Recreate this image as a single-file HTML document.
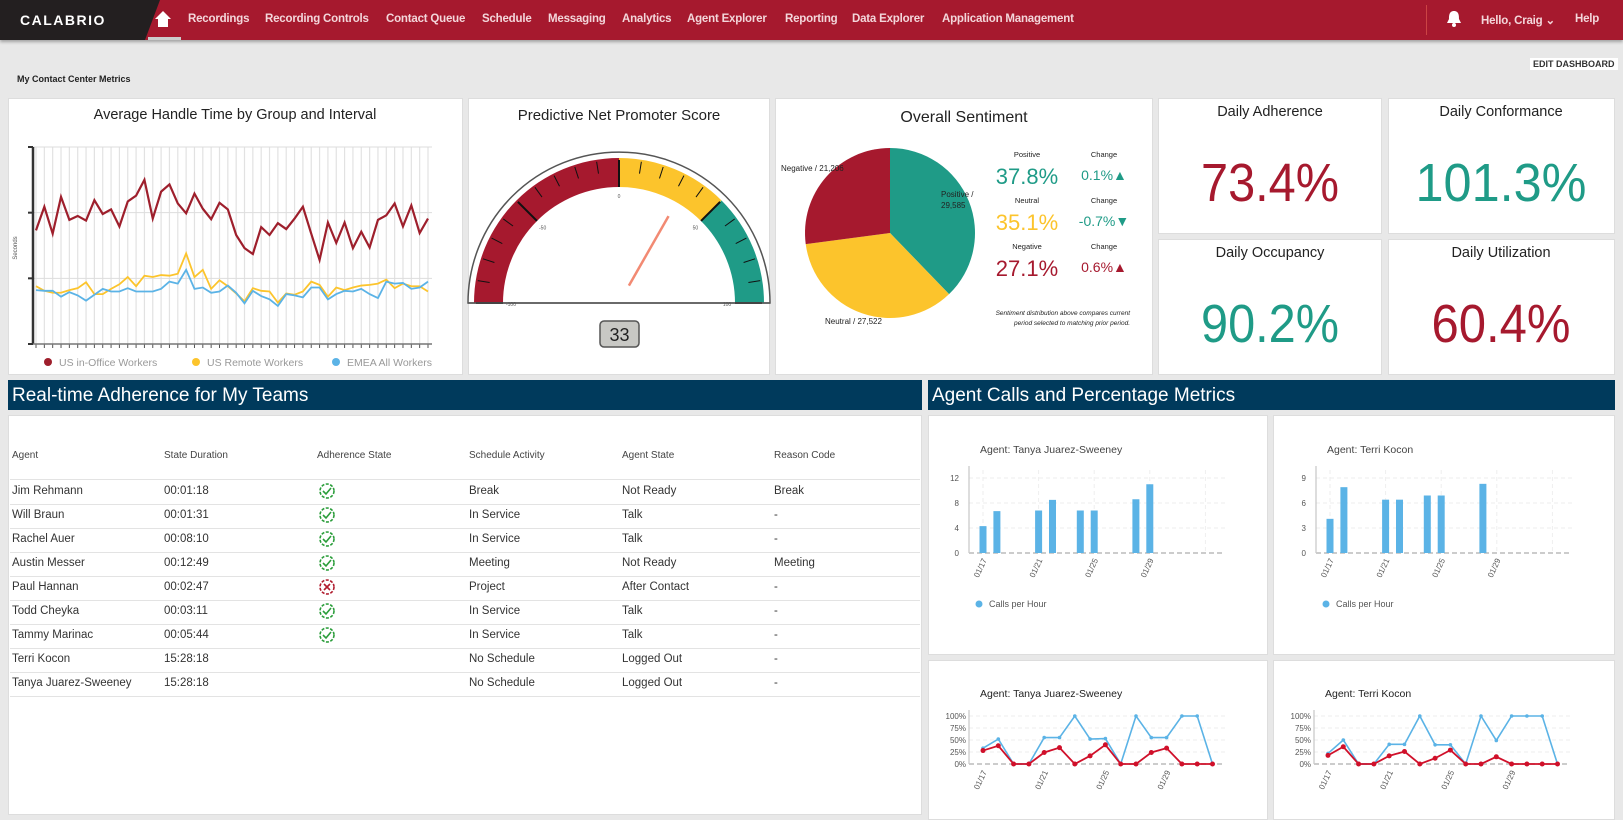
<!DOCTYPE html>
<html><head><meta charset="utf-8">
<style>
*{margin:0;padding:0;box-sizing:border-box}
body{width:1623px;height:810px;overflow:hidden;background:#e8e8e8;font-family:"Liberation Sans",sans-serif;position:relative}
.abs{position:absolute}
.nav{left:0;top:0;width:1623px;height:40px;background:#a6192e;box-shadow:0 2px 3px rgba(0,0,0,.3)}
.navi{position:absolute;top:13px;color:#f3d6da;font-size:11.5px;font-weight:bold;white-space:nowrap;letter-spacing:-0.2px}
.panel{position:absolute;background:#fff;border:1px solid #ddd}
.hdr{position:absolute;background:#003a5c;color:#fff;font-size:19px;padding:5px 4px;height:30px;white-space:nowrap}
.th{position:absolute;top:450px;font-size:10px;color:#444}
.td{position:absolute;font-size:11.5px;color:#333;white-space:nowrap}
.rl{position:absolute;left:10px;width:910px;height:1px;background:#e3e3e3}
</style></head><body>
<div class="abs nav">
 <svg class="abs" style="left:0;top:0" width="160" height="40"><polygon points="0,0 160,0 145,40 0,40" fill="#231f20"/><text x="20" y="25" fill="#fff" font-size="14" font-weight="bold" letter-spacing="1.5" font-family="Liberation Sans">CALABRIO</text></svg>
 <svg class="abs" style="left:154px;top:10px" width="18" height="18"><polygon points="9,1 1,9 4,9 4,17 14,17 14,9 17,9" fill="#fff"/></svg>
 <div class="abs" style="left:148px;top:37px;width:33px;height:3px;background:#ccc"></div>
 <span class="navi" style="left:188px">Recordings</span>
 <span class="navi" style="left:265px">Recording Controls</span>
 <span class="navi" style="left:386px">Contact Queue</span>
 <span class="navi" style="left:482px">Schedule</span>
 <span class="navi" style="left:548px">Messaging</span>
 <span class="navi" style="left:622px">Analytics</span>
 <span class="navi" style="left:687px">Agent Explorer</span>
 <span class="navi" style="left:785px">Reporting</span>
 <span class="navi" style="left:852px">Data Explorer</span>
 <span class="navi" style="left:942px">Application Management</span>
 <div class="abs" style="left:1426px;top:5px;width:1px;height:30px;background:#c44"></div>
 <svg class="abs" style="left:1446px;top:10px" width="16" height="18"><path d="M8 1 C3 1 3 6 3 9 L1 13 L15 13 L13 9 C13 6 13 1 8 1Z" fill="#fff"/><circle cx="8" cy="15" r="2" fill="#fff"/></svg>
 <span class="navi" style="left:1481px">Hello, Craig ⌄</span>
 <span class="navi" style="left:1575px">Help</span>
</div>
<div class="abs" style="left:17px;top:74px;font-size:9px;font-weight:bold;color:#222">My Contact Center Metrics</div>
<div class="abs" style="left:1530px;top:58px;font-size:9px;font-weight:bold;color:#333;background:#fff;padding:1px 3px">EDIT DASHBOARD</div>

<div class="panel" style="left:8px;top:98px;width:455px;height:277px"></div>

<div class="panel" style="left:468px;top:98px;width:302px;height:277px"></div>
<div class="panel" style="left:775px;top:98px;width:378px;height:277px"></div>
<div class="panel" style="left:1158px;top:98px;width:224px;height:136px"></div>
<div class="panel" style="left:1388px;top:98px;width:227px;height:136px"></div>
<div class="panel" style="left:1158px;top:239px;width:224px;height:136px"></div>
<div class="panel" style="left:1388px;top:239px;width:227px;height:136px"></div>

<div class="hdr" style="left:8px;top:380px;width:914px">Real-time Adherence for My Teams</div>
<div class="hdr" style="left:928px;top:380px;width:687px">Agent Calls and Percentage Metrics</div>

<div class="panel" style="left:8px;top:415px;width:914px;height:400px"></div>
<div class="panel" style="left:928px;top:415px;width:340px;height:240px"></div>
<div class="panel" style="left:1273px;top:415px;width:342px;height:240px"></div>
<div class="panel" style="left:928px;top:660px;width:340px;height:160px"></div>
<div class="panel" style="left:1273px;top:660px;width:342px;height:160px"></div>

<div id="table"></div>
<svg class="abs" style="left:0;top:0" width="1623" height="810" id="over" pointer-events="none"></svg>

<script>
const ahtRed=[173,209,168,224,189,195,188,219,198,205,179,217,226,250,191,232,243,214,199,229,206,190,215,205,166,146,137,178,166,184,175,191,209,168,128,185,154,185,146,171,147,189,196,214,179,211,169,191];
const ahtYellow=[88,81,78,78,82,85,94,76,76,84,91,102,88,104,102,105,104,107,138,102,113,84,97,88,77,65,85,81,80,63,77,75,80,95,90,72,86,82,86,89,90,92,98,85,92,88,88,80];
const ahtBlue=[82,81,81,72,79,74,66,75,84,80,80,85,80,80,80,84,95,92,113,84,86,78,80,89,78,62,81,73,68,58,76,74,71,86,86,68,76,81,80,84,76,70,95,92,93,84,86,95];
const ahtTicks=[0,100,200,300];
const sentLabels=["Positive","Neutral","Negative"];
const sentCounts=[29585,27522,21206];
const sentPct=["37.8%","35.1%","27.1%"];
const sentChange=["0.1%","-0.7%","0.6%"];
const npsValue=33;
const kpiNames=["Daily Adherence","Daily Conformance","Daily Occupancy","Daily Utilization"];
const kpiValues=["73.4%","101.3%","90.2%","60.4%"];
const tanyaBarDays=[0,1,4,5,7,8,11,12];
const tanyaBarVals=[4.3,6.7,6.8,8.5,6.8,6.8,8.6,11];
const terriBarDays=[0,1,4,5,7,8,11];
const terriBarVals=[4.1,7.9,6.4,6.4,6.9,6.9,8.3];
const tanyaTicks=[0,4,8,12];
const terriTicks=[0,3,6,9];
const dateLabels=["01/17","01/21","01/25","01/29"];
const tanyaBlue=[33,52,0,0,55,55,100,52,53,0,100,55,55,100,100,0];
const tanyaRed=[28,38,0,0,24,34,0,17,40,0,0,24,33,0,0,0];
const terriBlue=[22,50,0,0,41,41,100,40,40,0,100,49,100,100,100,0];
const terriRed=[18,36,0,0,17,26,0,12,29,0,0,15,0,0,0,0];
const pctTicks=["0%","25%","50%","75%","100%"];
const agents=["Jim Rehmann","Will Braun","Rachel Auer","Austin Messer","Paul Hannan","Todd Cheyka","Tammy Marinac","Terri Kocon","Tanya Juarez-Sweeney"];
const durations=["00:01:18","00:01:31","00:08:10","00:12:49","00:02:47","00:03:11","00:05:44","15:28:18","15:28:18"];
const adh=["ok","ok","ok","ok","bad","ok","ok","",""];
const activities=["Break","In Service","In Service","Meeting","Project","In Service","In Service","No Schedule","No Schedule"];
const states=["Not Ready","Talk","Talk","Not Ready","After Contact","Talk","Talk","Logged Out","Logged Out"];
const reasons=["Break","-","-","Meeting","-","-","-","-","-"];

const NS="http://www.w3.org/2000/svg";
const svg=document.getElementById('over');
function el(tag,attrs,parent,txt){const e=document.createElementNS(NS,tag);for(const k in attrs)e.setAttribute(k,attrs[k]);if(txt!==undefined)e.textContent=txt;(parent||svg).appendChild(e);return e;}
const RED="#a6192e",TEAL="#1f9b87",YEL="#fcc42c",BLUE="#5bb3e6";

(function(){
 const x0=36,x1=428,yb=344,yt=147;
 const xs=i=>x0+i*(x1-x0)/(ahtRed.length-1);
 const ys=v=>yb-(v-ahtTicks[0])/(ahtTicks[ahtTicks.length-1]-ahtTicks[0])*(yb-yt);
 let t=el('text',{x:235,y:119,'text-anchor':'middle','font-size':14.5,fill:'#222'},svg,'Average Handle Time by Group and Interval');
 
 for(let i=0;i<ahtRed.length;i++){el('line',{x1:xs(i),x2:xs(i),y1:yt,y2:yb,stroke:'#e2e2e2','stroke-width':1.2});
  el('line',{x1:xs(i),x2:xs(i),y1:yb,y2:yb+4,stroke:'#555'});}
 ahtTicks.forEach(v=>{if(v>0)el('line',{x1:32,x2:432,y1:ys(v),y2:ys(v),stroke:'#ddd'});el('line',{x1:28,x2:33,y1:ys(v),y2:ys(v),stroke:'#333','stroke-width':2});});
 el('line',{x1:33,x2:33,y1:yt,y2:yb,stroke:'#333','stroke-width':2.5});
 el('line',{x1:33,x2:432,y1:yb,y2:yb,stroke:'#777','stroke-width':1.5});
 const yl=el('text',{x:0,y:0,transform:'translate(17,248) rotate(-90)','text-anchor':'middle','font-size':6,fill:'#555'},svg,'Seconds');
 
 [[ahtYellow,YEL,'series-us-remote'],[ahtBlue,BLUE,'series-emea'],[ahtRed,'#9e1f2c','series-us-in-office']].forEach(([d,c,n])=>{
  const p=el('polyline',{points:d.map((v,i)=>xs(i)+','+ys(v)).join(' '),fill:'none',stroke:c,'stroke-width':c==='#9e1f2c'?2.2:1.8});
  });
 [[48,'#9e1f2c','US in-Office Workers'],[196,YEL,'US Remote Workers'],[336,BLUE,'EMEA All Workers']].forEach(([x,c,s])=>{
  const g=el('g',{});
  el('circle',{cx:x,cy:362,r:4,fill:c},g);el('text',{x:x+11,y:366,'font-size':10.5,fill:'#999'},g,s);});
})();

(function(){
 const cx=619,cy=303,ro=145,ri=116;
 const t=el('text',{x:619,y:120,'text-anchor':'middle','font-size':15,fill:'#222'},svg,'Predictive Net Promoter Score');
 
 const ang=v=>Math.PI-(v+100)/200*Math.PI;
 const P=(r,a)=>[cx+r*Math.cos(a),cy-r*Math.sin(a)];
 el('path',{d:`M${cx-151},${cy} A151,151 0 0 1 ${cx+151},${cy} Z`,fill:'#fff',stroke:'#555','stroke-width':1.5});
 function band(v0,v1,c,n){const a0=ang(v0),a1=ang(v1);const p1=P(ro,a0),p2=P(ro,a1),p3=P(ri,a1),p4=P(ri,a0);
  const b=el('path',{d:`M${p1} A${ro},${ro} 0 0 1 ${p2} L${p3} A${ri},${ri} 0 0 0 ${p4} Z`,fill:c});}
 band(-100,0,RED,'gauge-band-negative');band(0,50,YEL,'gauge-band-neutral');band(50,100,TEAL,'gauge-band-positive');
 for(let v=-100;v<=100;v+=10){const a=ang(v);const major=v%50===0;const [x1,y1]=P(ro-2,a),[x2,y2]=P(major?ri:ro-14,a);
  el('line',{x1,y1,x2,y2,stroke:'#111','stroke-width':major?2:1});}
 [[-100,'-100'],[-50,'-50'],[0,'0'],[50,'50'],[100,'100']].forEach(([v,s])=>{const [x,y]=P(ri-8,ang(v));el('text',{x,y:y+3,'text-anchor':'middle','font-size':5,fill:'#555'},svg,s);});
 const a=ang(npsValue);const [nx1,ny1]=P(20,a),[nx2,ny2]=P(100,a);
 const nd=el('line',{x1:nx1,y1:ny1,x2:nx2,y2:ny2,stroke:'#f28a73','stroke-width':2.5});
 el('line',{x1:cx-151,x2:cx+151,y1:cy,y2:cy,stroke:'#555','stroke-width':1.5});
 el('rect',{x:600,y:321,width:39,height:26,rx:4,fill:'#c8c8c4',stroke:'#555','stroke-width':1.5});
 const vt=el('text',{x:619.5,y:341,'text-anchor':'middle','font-size':18,fill:'#222'},svg,String(npsValue));
 
})();

(function(){
 const cx=890,cy=233,r=85;
 const t=el('text',{x:964,y:122,'text-anchor':'middle','font-size':16,fill:'#222'},svg,'Overall Sentiment');
 
 const tot=sentCounts.reduce((a,b)=>a+b,0);const cols=[TEAL,YEL,RED];let acc=0;
 sentCounts.forEach((v,i)=>{const a0=acc/tot*2*Math.PI;acc+=v;const a1=acc/tot*2*Math.PI;
  const p0=[cx+r*Math.sin(a0),cy-r*Math.cos(a0)],p1=[cx+r*Math.sin(a1),cy-r*Math.cos(a1)];
  const s=el('path',{d:`M${cx},${cy} L${p0} A${r},${r} 0 ${a1-a0>Math.PI?1:0} 1 ${p1} Z`,fill:cols[i]});
  });
 const fmt=n=>n.toLocaleString('en-US');
 el('text',{x:781,y:171,'font-size':8,fill:'#222'},svg,'Negative / '+fmt(sentCounts[2]));
 el('text',{x:941,y:197,'font-size':8,fill:'#222'},svg,'Positive /');
 el('text',{x:941,y:208,'font-size':8,fill:'#222'},svg,fmt(sentCounts[0]));
 el('text',{x:825,y:324,'font-size':8,fill:'#222'},svg,'Neutral / '+fmt(sentCounts[1]));
 const vc=[TEAL,YEL,RED],cc=[TEAL,TEAL,RED],arr=['▲','▼','▲'];
 sentLabels.forEach((l,i)=>{const y=157+i*46;
  el('text',{x:1027,y:y,'text-anchor':'middle','font-size':7.5,fill:'#222'},svg,l);
  const v=el('text',{x:1027,y:y+27,'text-anchor':'middle','font-size':22,fill:vc[i]},svg,sentPct[i]);
  
  el('text',{x:1104,y:y,'text-anchor':'middle','font-size':7.5,fill:'#222'},svg,'Change');
  el('text',{x:1104,y:y+23,'text-anchor':'middle','font-size':14,fill:cc[i]},svg,sentChange[i]+arr[i]);});
 el('text',{x:1130,y:315,'text-anchor':'end','font-size':6.5,'font-style':'italic',fill:'#222'},svg,'Sentiment distribution above compares current');
 el('text',{x:1130,y:325,'text-anchor':'end','font-size':6.5,'font-style':'italic',fill:'#222'},svg,'period selected to matching prior period.');
})();

(function(){
 const pos=[[1270,98],[1501,98],[1270,239],[1501,239]];const cols=[RED,TEAL,TEAL,RED];const w=[138,171,138,139];
 kpiNames.forEach((n,i)=>{const [x,y]=pos[i];
  el('text',{x,y:y+18,'text-anchor':'middle','font-size':14.5,fill:'#222'},svg,n);
  const v=el('text',{x,y:y+103,'text-anchor':'middle','font-size':54,fill:cols[i],textLength:w[i],lengthAdjust:'spacingAndGlyphs'},svg,kpiValues[i]);
  });
})();

function barChart(x0,title,days,vals,ticks,nm){
 const xa=x0-14,xe=x0+242,yb=553,yt=478,dx=13.9;
 const xs=d=>x0+d*dx;const ys=v=>yb-v/ticks[ticks.length-1]*(yb-yt);
 el('text',{x:x0-3,y:453,'font-size':10.5,fill:'#444'},svg,title);
 ticks.forEach(v=>{if(v>0)el('line',{x1:xa,x2:xe,y1:ys(v),y2:ys(v),stroke:'#eee','stroke-dasharray':'4,3'});el('text',{x:xa-10,y:ys(v)+3,'text-anchor':'end','font-size':8,fill:'#555'},svg,String(v));});
 for(let d=0;d<=16;d+=4)el('line',{x1:xs(d),x2:xs(d),y1:yt-8,y2:yb,stroke:'#eee','stroke-dasharray':'4,3'});
 el('line',{x1:xa,x2:xa,y1:yt-12,y2:yb,stroke:'#bbb'});
 el('line',{x1:xa,x2:xe,y1:yb,y2:yb,stroke:'#ccc','stroke-width':2,'stroke-dasharray':'5,3'});
 days.forEach((d,i)=>{const r=el('rect',{x:xs(d)-3.5,y:ys(vals[i]),width:7,height:yb-ys(vals[i]),fill:BLUE});
  });
 dateLabels.forEach((s,i)=>{const x=xs(i*4)+4;el('text',{x:0,y:0,transform:`translate(${x},${560}) rotate(-65)`,'text-anchor':'end','font-size':8,fill:'#555'},svg,s);});
 el('circle',{cx:x0-4,cy:604,r:3.5,fill:BLUE});el('text',{x:x0+6,y:607,'font-size':9,fill:'#555'},svg,'Calls per Hour');
}
barChart(983,'Agent: Tanya Juarez-Sweeney',tanyaBarDays,tanyaBarVals,tanyaTicks,'tanya-calls');
barChart(1330,'Agent: Terri Kocon',terriBarDays,terriBarVals,terriTicks,'terri-calls');

function pctChart(x0,title,blue,red,nm){
 const xa=x0-14,xe=x0+242,yb=764,yt=716,dx=15.3;
 const xs=d=>x0+d*dx;const ys=v=>yb-v/100*(yb-yt);
 el('text',{x:x0-3,y:697,'font-size':10.5,fill:'#222'},svg,title);
 pctTicks.forEach((s,i)=>{const y=ys(i*25);if(i>0)el('line',{x1:xa,x2:xe,y1:y,y2:y,stroke:'#eee','stroke-dasharray':'4,3'});el('text',{x:xa-3,y:y+3,'text-anchor':'end','font-size':8,fill:'#555'},svg,s);});
 el('line',{x1:xa,x2:xa,y1:yt-6,y2:yb,stroke:'#bbb'});
 el('line',{x1:xa,x2:xe,y1:yb,y2:yb,stroke:'#ccc','stroke-width':2,'stroke-dasharray':'5,3'});
 const b=el('polyline',{points:blue.map((v,i)=>xs(i)+','+ys(v)).join(' '),fill:'none',stroke:BLUE,'stroke-width':1.6});
 
 blue.forEach((v,i)=>el('circle',{cx:xs(i),cy:ys(v),r:1.8,fill:BLUE}));
 const r=el('polyline',{points:red.map((v,i)=>xs(i)+','+ys(v)).join(' '),fill:'none',stroke:'#d0102a','stroke-width':1.8});
 
 red.forEach((v,i)=>el('circle',{cx:xs(i),cy:ys(v),r:2.5,fill:'#d0102a'}));
 dateLabels.forEach((s,i)=>{const x=xs(i*4)+4;el('text',{x:0,y:0,transform:`translate(${x},${772}) rotate(-65)`,'text-anchor':'end','font-size':8,fill:'#555'},svg,s);});
}
pctChart(983,'Agent: Tanya Juarez-Sweeney',tanyaBlue,tanyaRed,'tanya-pct');
pctChart(1328,'Agent: Terri Kocon',terriBlue,terriRed,'terri-pct');

(function(){
 const T=document.getElementById('table');
 const cols=[12,164,317,469,622,774];
 const heads=["Agent","State Duration","Adherence State","Schedule Activity","Agent State","Reason Code"];
 heads.forEach((h,i)=>{const d=document.createElement('div');d.className='th';d.style.left=cols[i]+'px';d.textContent=h;
  T.appendChild(d);});
 const line=y=>{const d=document.createElement('div');d.className='rl';d.style.top=y+'px';T.appendChild(d);};
 line(479);
 agents.forEach((a,i)=>{const y=492+i*24;
  [a,durations[i],'',activities[i],states[i],reasons[i]].forEach((s,j)=>{if(j===2)return;const d=document.createElement('div');d.className='td';d.style.left=cols[j]+'px';d.style.top=(y-7)+'px';d.textContent=s;T.appendChild(d);});
  line(y+12);
  if(adh[i]){const ok=adh[i]==='ok';const c=ok?'#2a9d3a':'#b01c2e';
   const g=el('g',{});
   el('circle',{cx:327,cy:y-1,r:7,fill:'none',stroke:c,'stroke-width':1.6,'stroke-dasharray':'3,1.5'},g);
   if(ok)el('polyline',{points:`${323},${y-1} ${326},${y+2} ${331},${y-4}`,fill:'none',stroke:c,'stroke-width':1.6},g);
   else el('path',{d:`M${324},${y-4} L${330},${y+2} M${330},${y-4} L${324},${y+2}`,stroke:c,'stroke-width':1.6},g);}
 });
})();
</script>
</body></html>
